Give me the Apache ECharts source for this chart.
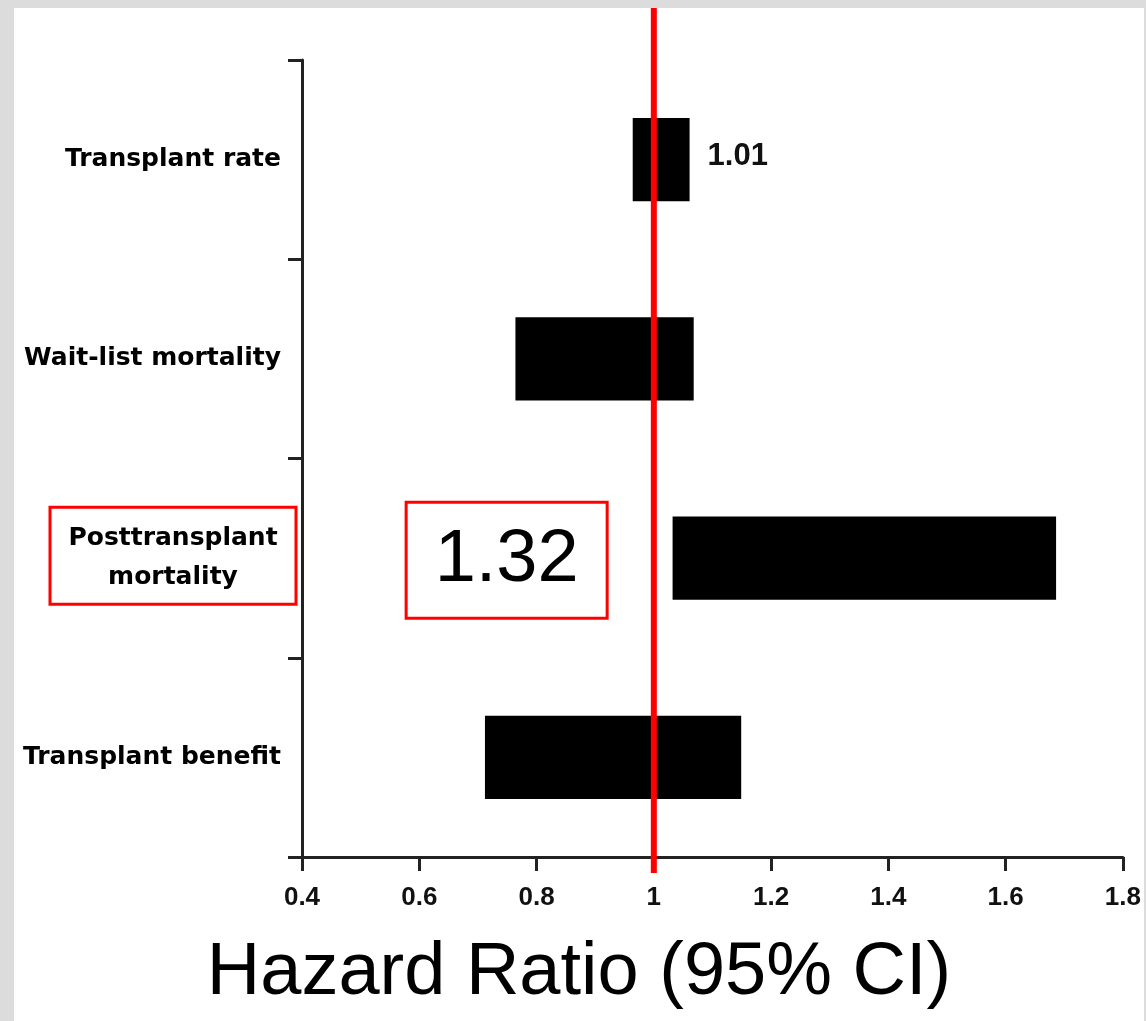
<!DOCTYPE html>
<html>
<head>
<meta charset="utf-8">
<script src="https://cdn.jsdelivr.net/npm/echarts@6/dist/echarts.min.js"></script>
<style>
  html, body { margin: 0; padding: 0; background: #dcdcdc; width: 1146px; height: 1021px; overflow: hidden; }
  #chart { position: absolute; left: 14px; top: 8px; width: 1130px; height: 1013px; background: #fff; }
</style>
</head>
<body>
<div id="chart"></div>
<script>
// ---- data ----
const categories = ['Transplant rate', 'Wait-list mortality', 'Posttransplant mortality', 'Transplant benefit'];
const ciLow  = [0.964, 0.764, 1.032, 0.712];
const ciHigh = [1.061, 1.068, 1.686, 1.149];
const barLabels = ['1.01', '', '', ''];
const xTicks = ['0.4', '0.6', '0.8', '1', '1.2', '1.4', '1.6', '1.8'];
const xMin = 0.4, xMax = 1.8, xStep = 0.2;
const refValue = 1;
const highlightCategory = 'Posttransplant mortality';
const highlightText = '1.32';
const highlightAt = 0.749;
const axisTitle = 'Hazard Ratio (95% CI)';

// ---- layout ----
const W = 1130, H = 1013;
const G = { left: 288, right: 20, top: 52, bottom: 164 };

const chart = echarts.init(document.getElementById('chart'), null, { renderer: 'canvas' });

const rows = categories.map((c, i) => [ciLow[i], ciHigh[i], i, barLabels[i]]);

chart.setOption({
  backgroundColor: '#ffffff',
  animation: false,
  title: {
    text: axisTitle,
    left: 'center',
    top: 929,
    padding: 0,
    textStyle: { fontSize: 74, fontWeight: 'normal', fontFamily: '"Liberation Sans", Arial, sans-serif', color: '#000' }
  },
  grid: { left: G.left, right: G.right, top: G.top, bottom: G.bottom, containLabel: false },
  xAxis: {
    type: 'value',
    min: xMin, max: xMax, interval: xStep,
    splitLine: { show: false },
    axisLine: { show: true, lineStyle: { color: '#222', width: 3 } },
    axisTick: { show: true, length: 14, lineStyle: { color: '#222', width: 3 } },
    axisLabel: {
      margin: 28,
      fontSize: 26, fontWeight: 'bold', fontFamily: '"Liberation Sans", Arial, sans-serif', color: '#111',
      formatter: v => xTicks[Math.round((v - xMin) / xStep)]
    }
  },
  yAxis: {
    type: 'category',
    data: categories,
    inverse: true,
    axisLine: { show: true, lineStyle: { color: '#222', width: 3 } },
    axisTick: { show: true, length: 14, lineStyle: { color: '#222', width: 3 } },
    axisLabel: {
      margin: 21,
      fontSize: 25, fontWeight: 'bold', fontFamily: '"DejaVu Sans", sans-serif', color: '#000',
      formatter: v => v === highlightCategory
        ? '{c|' + v.split(' ').join('}\n{c|') + '}'
        : v,
      rich: {
        c: { width: 216, align: 'center', lineHeight: 39, fontSize: 25, fontWeight: 'bold', fontFamily: '"DejaVu Sans", sans-serif', color: '#000' }
      }
    }
  },
  series: [
    {
      type: 'custom',
      data: rows,
      encode: { x: [0, 1], y: 2 },
      z: 2,
      renderItem: function (params, api) {
        const lo = api.coord([api.value(0), api.value(2)]);
        const hi = api.coord([api.value(1), api.value(2)]);
        const h = api.size([0, 1])[1] * 0.418;
        const children = [{
          type: 'rect',
          shape: { x: lo[0], y: lo[1] - h / 2, width: hi[0] - lo[0], height: h },
          style: { fill: '#000' }
        }];
        const lab = barLabels[params.dataIndex];
        if (lab) {
          children.push({
            type: 'text',
            x: hi[0] + 18, y: hi[1] - 3,
            style: { text: lab, fontSize: 31, fontWeight: 'bold', fontFamily: '"Liberation Sans", Arial, sans-serif', fill: '#111', align: 'left', verticalAlign: 'middle' }
          });
        }
        return { type: 'group', children: children };
      }
    },
    {
      type: 'scatter',
      symbolSize: 0,
      z: 3,
      itemStyle: { opacity: 1 },
      data: [[highlightAt, highlightCategory]],
      label: {
        show: true,
        position: 'inside',
        offset: [0, 2],
        formatter: highlightText,
        fontSize: 74, fontWeight: 'normal', fontFamily: '"Liberation Sans", Arial, sans-serif', color: '#000',
        lineHeight: 74,
        borderColor: '#ff0000', borderWidth: 3,
        padding: [20, 27, 19, 27],
        backgroundColor: '#fff'
      }
    }
  ]
});

// reference line & highlighted-label box, positioned through the axes
const xRef = chart.convertToPixel({ xAxisIndex: 0 }, refValue);
const axisY = H - G.bottom;
const yHi = chart.convertToPixel({ yAxisIndex: 0 }, highlightCategory);
chart.setOption({
  graphic: [
    {
      type: 'line', z: 100,
      shape: { x1: xRef, y1: 0, x2: xRef, y2: axisY + 16 },
      style: { stroke: '#ff0000', lineWidth: 6 }
    },
    {
      type: 'rect', z: 100,
      shape: { x: G.left - 252, y: yHi - 51, width: 246, height: 97 },
      style: { stroke: '#ff0000', lineWidth: 3, fill: 'transparent' }
    }
  ]
});
</script>
</body>
</html>
